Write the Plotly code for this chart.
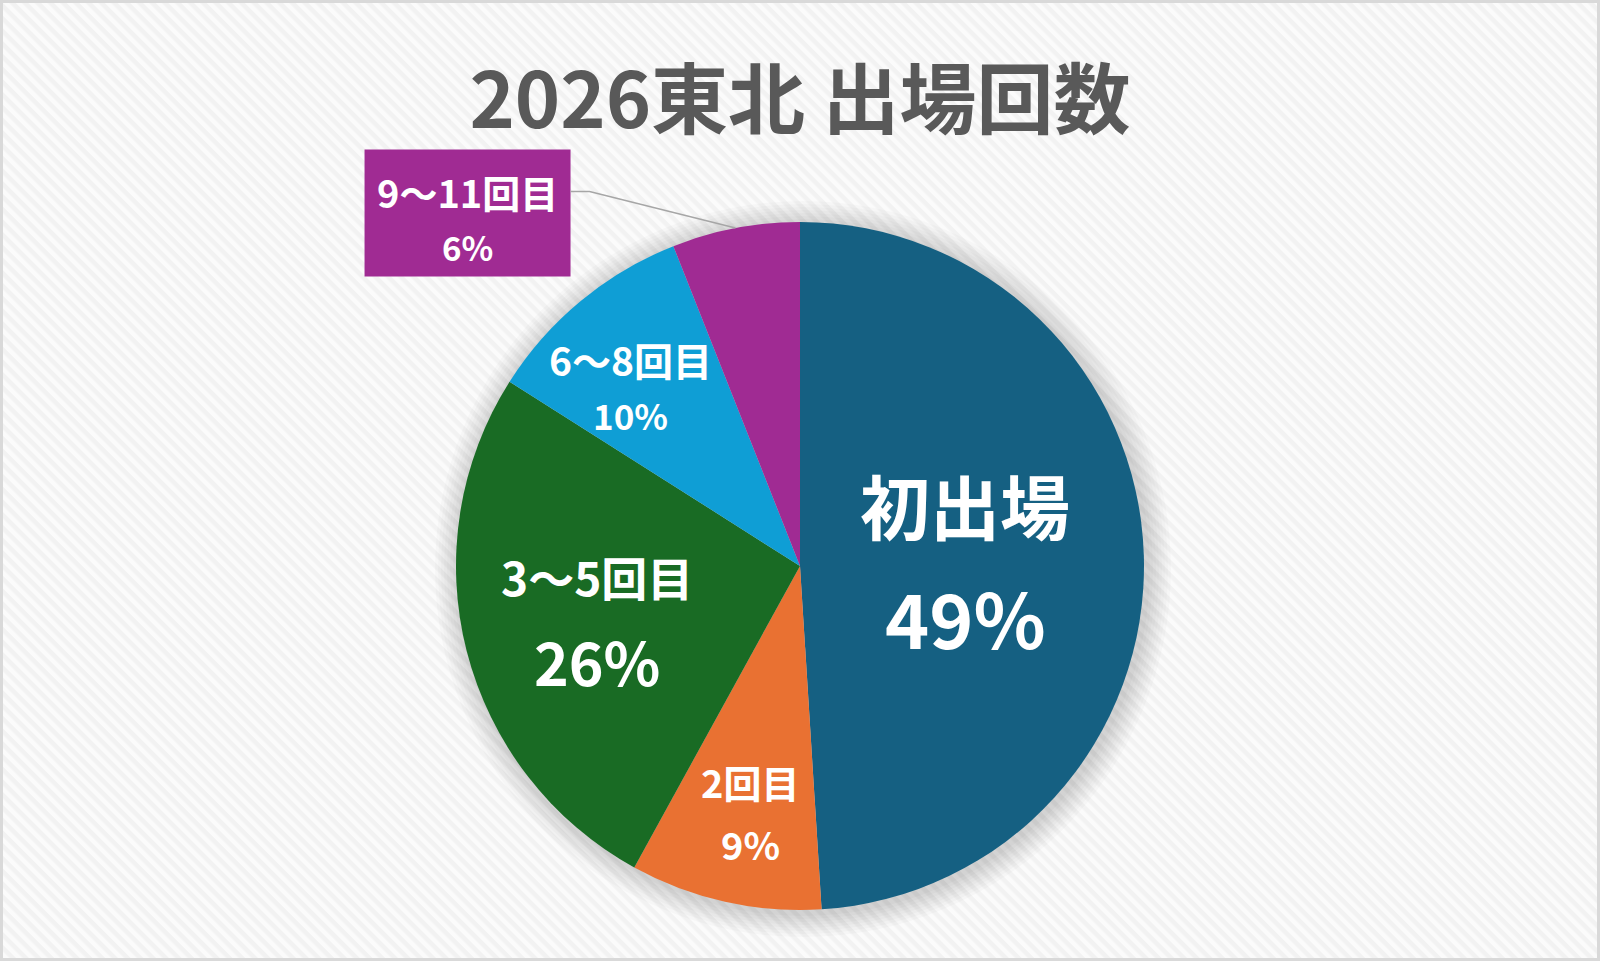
import base64
import math
import plotly.graph_objects as go

# data
labels = ['初出場', '2回目', '3〜5回目', '6〜8回目', '9〜11回目']
values = [49, 9, 26, 10, 6]
colors = ['#156082', '#E97132', '#196B24', '#0F9ED5', '#A02B93']
title_text = '2026東北 出場回数'

# geometry (pixels, y down)
W, H = 1600, 961
CX, CY, R = 800, 566, 344

# label styles per slice: radius factor, pixel nudge, label size, pct size, line gap
label_r = [0.48, 0.745, 0.61, 0.71, None]
label_dx = [0, 6, 0, -14, 0]
label_dy = [0, -4, 0, 9, 6]
label_size = [70, 38, 46, 39, 38]
pct_size = [75, 38, 59, 35, 33]
line_gap = [112, 62, 85, 56, 56]

FONT = 'Noto Sans CJK JP'


def px(x):
    return x / W


def py(y):
    return 1 - y / H


# striped background as an inline svg
svg = f'''<svg xmlns="http://www.w3.org/2000/svg" width="{W}" height="{H}">
<defs><pattern id="p" width="9" height="9" patternUnits="userSpaceOnUse" patternTransform="rotate(-45)">
<rect width="9" height="9" fill="#F2F2F2"/><rect width="4.5" height="9" fill="#FBFBFB"/></pattern></defs>
<rect width="{W}" height="{H}" fill="url(#p)"/>
<rect x="1.5" y="1.5" width="{W-3}" height="{H-3}" fill="none" stroke="#D9D9D9" stroke-width="3"/>
</svg>'''
bg_src = 'data:image/svg+xml;base64,' + base64.b64encode(svg.encode()).decode()

total = sum(values)
fig = go.Figure(go.Pie(
    labels=labels, values=values, sort=False, direction='clockwise', rotation=0,
    marker=dict(colors=colors, line=dict(width=0)),
    textinfo='none', hoverinfo='label+percent', showlegend=False,
    domain=dict(x=[px(CX - R), px(CX + R)], y=[py(CY + R), py(CY - R)]),
))

annotations = []
shapes = []

# soft shadow behind the pie
for k in range(8):
    rr = R + 3 + k * 3
    shapes.append(dict(type='circle', xref='paper', yref='paper', layer='below',
                       x0=px(CX + 3 - rr), x1=px(CX + 3 + rr),
                       y0=py(CY + 3 + rr), y1=py(CY + 3 - rr),
                       fillcolor='rgba(0,0,0,0.018)', line=dict(width=0)))


def add_text_pair(x, y, lab, pct, i):
    for txt, size, shift in [(lab, label_size[i], line_gap[i] / 2),
                             (pct, pct_size[i], -line_gap[i] / 2)]:
        annotations.append(dict(
            x=px(x), y=py(y), xref='paper', yref='paper', text=txt, showarrow=False,
            xanchor='center', yanchor='middle', yshift=shift,
            font=dict(family=FONT, size=size, color='white', weight='bold')))


cum = 0
for i, (lab, v) in enumerate(zip(labels, values)):
    theta = 2 * math.pi * (cum + v / 2) / total
    cum += v
    pct = f'{round(v / total * 100)}%'
    if label_r[i] is not None:
        x = CX + label_r[i] * R * math.sin(theta) + label_dx[i]
        y = CY - label_r[i] * R * math.cos(theta) + label_dy[i]
        add_text_pair(x, y, lab, pct, i)
    else:
        # outside label in a coloured box with a leader line
        ex = CX + R * math.sin(theta)
        ey = CY - R * math.cos(theta)
        bw, bh = 206, 127
        box_r, box_cy = ex - 165, ey - 15
        shapes.append(dict(type='rect', xref='paper', yref='paper',
                           x0=px(box_r - bw), x1=px(box_r),
                           y0=py(box_cy + bh / 2), y1=py(box_cy - bh / 2),
                           fillcolor=colors[i], line=dict(width=0)))
        add_text_pair(box_r - bw / 2 + label_dx[i], box_cy + label_dy[i], lab, pct, i)
        ly = box_cy - bh / 2 + 42
        shapes.append(dict(type='path', xref='paper', yref='paper',
                           path=f'M {px(box_r)} {py(ly)} L {px(box_r + 19)} {py(ly)} L {px(ex)} {py(ey)}',
                           line=dict(color='#A6A6A6', width=1.5)))

fig.update_layout(
    width=W, height=H, margin=dict(l=0, r=0, t=0, b=0),
    paper_bgcolor='#F4F4F4', plot_bgcolor='rgba(0,0,0,0)',
    title=dict(text=title_text, x=0.5, xanchor='center', y=py(101), yanchor='middle',
               font=dict(family=FONT, size=77, color='#595959', weight='bold')),
    images=[dict(source=bg_src, xref='paper', yref='paper', x=0, y=1, sizex=1, sizey=1,
                 xanchor='left', yanchor='top', sizing='stretch', layer='below')],
    annotations=annotations, shapes=shapes,
)

# drop the default page margin so the figure sits flush in the window
fig.write_html('out.html', config={'displayModeBar': False},
               post_script="document.body.style.margin='0';")
